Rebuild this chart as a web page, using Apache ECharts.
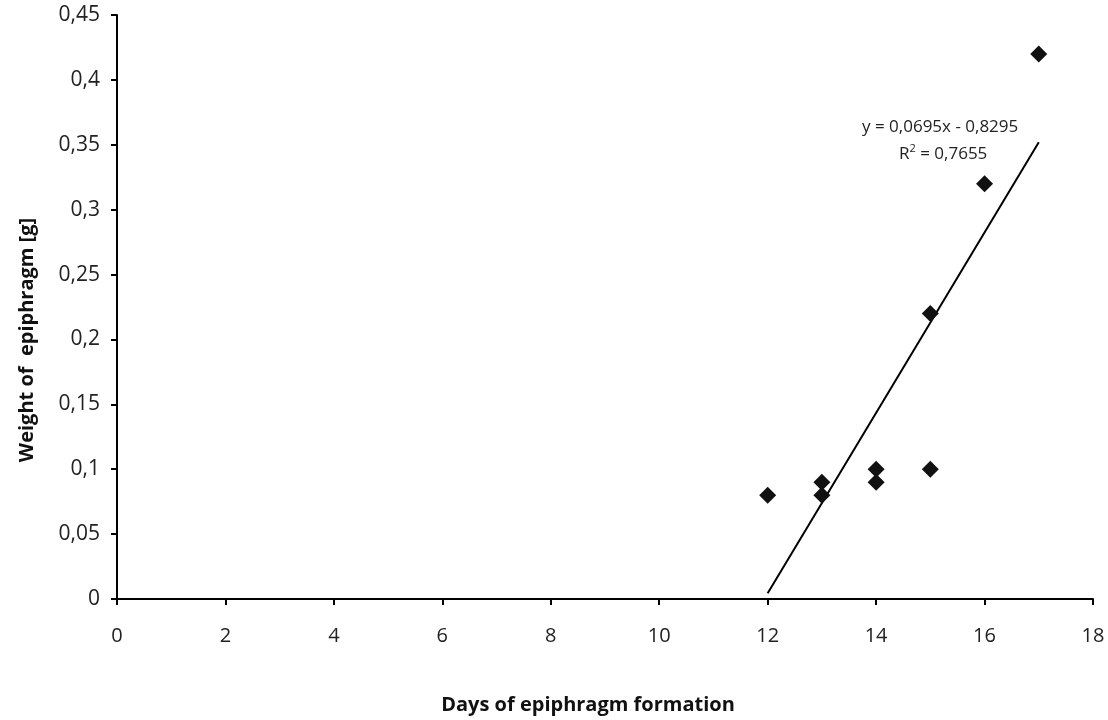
<!DOCTYPE html>
<html>
<head>
<meta charset="utf-8">
<script src="https://cdn.jsdelivr.net/npm/echarts@6/dist/echarts.min.js"></script>
<style>
    html, body { margin: 0; padding: 0; background: #fff; }
    #chart { width: 1108px; height: 720px; }
</style>
</head>
<body>
<div id="chart"></div>
<script>
// days of epiphragm formation and weight [g]
const days = [12, 13, 13, 14, 14, 15, 15, 16, 17];
const weights = [0.08, 0.09, 0.08, 0.1, 0.09, 0.1, 0.22, 0.32, 0.42];

// linear trend as printed on the chart
const slope = 0.0695;
const intercept = -0.8295;
const rSquared = '0,7655';

const points = days.map((d, i) => [d, weights[i]]);
const trendX = [Math.min(...days), Math.max(...days)];
const trend = trendX.map(x => [x, slope * x + intercept]);

const fmt = v => String(+v.toFixed(2)).replace('.', ',');

const chart = echarts.init(document.getElementById('chart'));

const option = {
    backgroundColor: '#fff',
    animation: false,
    textStyle: { fontFamily: 'Open Sans' },
    grid: { left: 117, right: 15, top: 15, bottom: 120 },
    xAxis: {
        type: 'value',
        min: 0,
        max: 18,
        interval: 2,
        name: 'Days of epiphragm formation',
        nameLocation: 'middle',
        nameGap: 96,
        nameTextStyle: {
            color: '#111',
            fontSize: 20,
            fontWeight: 'bold',
            padding: [0, 34, 0, 0]
        },
        splitLine: { show: false },
        axisLine: { lineStyle: { color: '#000', width: 2 } },
        axisTick: { length: 6, lineStyle: { color: '#000', width: 2 } },
        axisLabel: { color: '#222', fontSize: 20, margin: 27 }
    },
    yAxis: {
        type: 'value',
        min: 0,
        max: 0.45,
        interval: 0.05,
        name: 'Weight of  epiphragm [g]',
        nameLocation: 'middle',
        nameGap: 80,
        nameTextStyle: {
            color: '#111',
            fontSize: 20,
            fontWeight: 'bold',
            padding: [0, 66, 0, 0]
        },
        splitLine: { show: false },
        axisLine: { show: true, lineStyle: { color: '#000', width: 2 } },
        axisTick: { show: true, length: 6, lineStyle: { color: '#000', width: 2 } },
        axisLabel: { color: '#222', fontSize: 21, margin: 17, formatter: fmt }
    },
    series: [
        {
            type: 'line',
            data: trend,
            symbol: 'none',
            lineStyle: { color: '#000', width: 2 },
            z: 2
        },
        {
            type: 'scatter',
            data: points,
            symbol: 'diamond',
            symbolSize: 17,
            itemStyle: { color: '#111', opacity: 1 },
            z: 3
        }
    ],
    graphic: [
        {
            type: 'text',
            left: 862,
            top: 119,
            style: { text: 'y = 0,0695x - 0,8295', fill: '#222', font: '17px "Open Sans"' }
        },
        {
            type: 'text',
            left: 899,
            top: 143,
            style: {
                text: '{r|R}{s|2}{r| = ' + rSquared + '}',
                fill: '#222',
                rich: {
                    r: { fontSize: 17, fontFamily: 'Open Sans', verticalAlign: 'bottom' },
                    s: { fontSize: 11, fontFamily: 'Open Sans', verticalAlign: 'top', padding: [0, 0, 9, 0] }
                }
            }
        }
    ]
};

chart.setOption(option);
</script>
</body>
</html>
